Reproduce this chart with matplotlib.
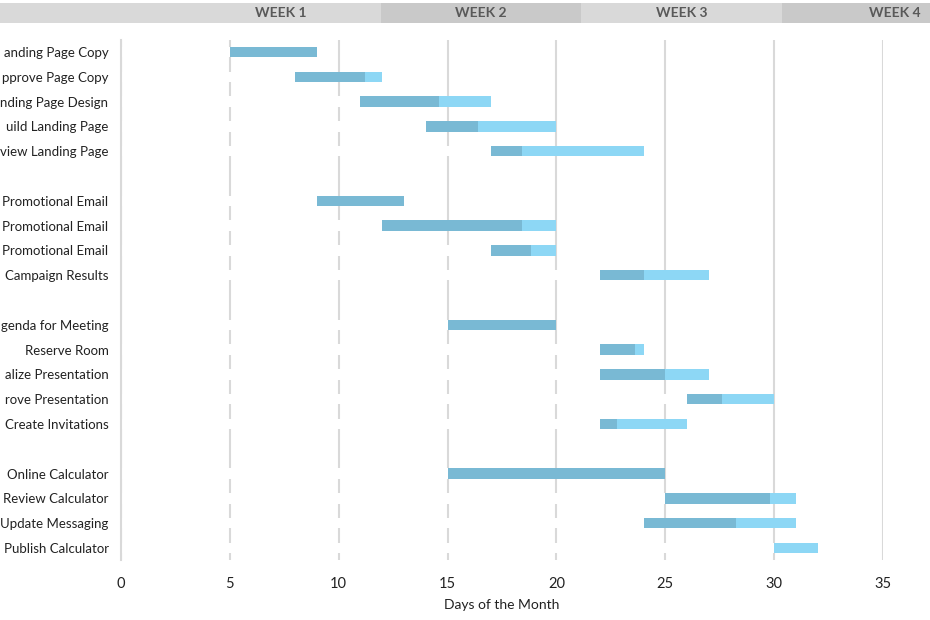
import matplotlib
matplotlib.use("Agg")
import matplotlib.pyplot as plt
import numpy as np

# task rows (left edge of the picture cuts the long names)
tasks = ["anding Page Copy", "pprove Page Copy", "nding Page Design",
         "uild Landing Page", "view Landing Page", "",
         "Promotional Email", "Promotional Email", "Promotional Email",
         "Campaign Results", "",
         "genda for Meeting", "Reserve Room", "alize Presentation",
         "rove Presentation", "Create Invitations", "",
         "Online Calculator", "Review Calculator", "Update Messaging",
         "Publish Calculator"]

# start day, days done, days remaining (nan for the blank rows)
start = [5, 8, 11, 14, 17, np.nan,
         9, 12, 17, 22, np.nan,
         15, 22, 22, 26, 22, np.nan,
         15, 25, 24, 30]
done = [4, 3.2, 3.6, 2.4, 1.4, np.nan,
        4, 6.4, 1.85, 2.0, np.nan,
        5, 1.6, 3.0, 1.6, 0.8, np.nan,
        10, 4.8, 4.25, 0]
left = [0, 0.8, 2.4, 3.6, 5.6, np.nan,
        0, 1.6, 1.15, 3.0, np.nan,
        0, 0.4, 2.0, 2.4, 3.2, np.nan,
        0, 1.2, 2.75, 2]

weeks = ["WEEK 1", "WEEK 2", "WEEK 3", "WEEK 4"]

plt.rcParams['font.family'] = ['Lato', 'DejaVu Sans']

fig = plt.figure(figsize=(9.3, 6.2), dpi=100)
ax = fig.add_axes([121/930, 1 - 560.4/620, 762/930, 520.8/620])

y = np.arange(len(tasks))
h = 0.42
s = np.array(start, dtype=float)
d = np.array(done, dtype=float)
r = np.array(left, dtype=float)

# white offset bars hide the grid, like the excel original
ax.barh(y, s, height=h, color="white", zorder=1)
ax.barh(y, d, left=s, height=h, color="#79b9d4", zorder=2)
ax.barh(y, r, left=s + d, height=h, color="#8dd7f5", zorder=2)

ax.set_xlim(0, 35)
ax.set_ylim(len(tasks) - 0.5, -0.5)
ax.set_xticks(range(0, 40, 5))
ax.set_yticks(y)
ax.set_yticklabels(tasks)
ax.set_axisbelow(True)
ax.grid(axis="x", color="#d9d9d9", lw=1.5)
ax.tick_params(length=0, labelsize=10.5, labelcolor="#222222")
ax.tick_params(axis="y", pad=9, labelsize=9.5)
ax.tick_params(axis="x", pad=12)
for k in ["top", "right", "bottom"]:
    ax.spines[k].set_visible(False)
ax.spines["left"].set_color("#d9d9d9")
ax.spines["left"].set_linewidth(1.5)
ax.set_xlabel("Days of the Month", fontsize=10, color="#222222", labelpad=6)

# week header cells
hdr = fig.add_axes([0, 1 - 23/620, 1, 20/620])
hdr.set_xlim(0, 930)
hdr.set_ylim(0, 1)
hdr.axis("off")
edges = [0, 381, 581, 782, 930]
shades = ["#d9d9d9", "#c9c9c9", "#d9d9d9", "#c9c9c9"]
centers = [281, 481, 682, 895]
for i, w in enumerate(weeks):
    hdr.axvspan(edges[i], edges[i + 1], color=shades[i], lw=0)
    hdr.text(centers[i], 0.5, w, ha="center", va="center",
             fontsize=10, fontweight="bold", color="#595959")

fig.savefig("out.png", dpi=100)
